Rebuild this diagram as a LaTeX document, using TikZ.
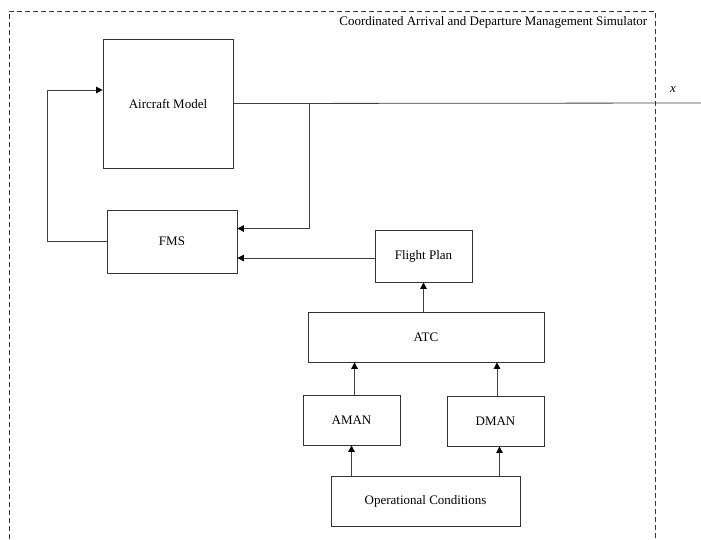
\documentclass[tikz,border=0pt]{standalone}
\usepackage{fontspec}
\setmainfont{Liberation Serif}
\usetikzlibrary{arrows.meta,calc}
\begin{document}
\begin{tikzpicture}[x=1pt,y=-1pt,
  line width=0.8pt,
  every node/.style={font=\fontsize{13}{15}\selectfont},
  block/.style={draw=black!80, rectangle, inner sep=0pt},
  link/.style={draw=black!75},
  arr/.style={link, -{Triangle[length=6.5pt,width=6.5pt,color=black]}},
  frame/.style={draw=black!80, dash pattern=on 5pt off 3pt}]
\useasboundingbox (0,0) rectangle (701,539);

% simulator boundary (open at the bottom)
\draw[frame] (9,539) -- (9,11) -- (655,11) -- (655,539);
\node[anchor=east] (title) at (651,22) {Coordinated Arrival and Departure Management Simulator};

% blocks
\node[block, minimum width=130pt, minimum height=129pt] (am) at (168,103.5) {Aircraft Model};
\node[block, minimum width=130pt, minimum height=63pt] (fms) at (172,241.5) {FMS};
\node[block, minimum width=97pt, minimum height=52pt] (fp) at (423.5,256) {Flight Plan};
\node[block, minimum width=236pt, minimum height=50pt] (atc) at (426,337) {ATC};
\node[block, minimum width=97pt, minimum height=50pt] (aman) at (351.5,420) {AMAN};
\node[block, minimum width=97pt, minimum height=50pt] (dman) at (495.5,421) {DMAN};
\node[block, minimum width=189pt, minimum height=50pt] (oc) at (425.5,501) {Operational Conditions};

% output state
\coordinate (xout) at (701,103);
\coordinate (br) at (309,103);
\draw[link] (am.east) -- (xout);
\node[font=\fontsize{13}{15}\selectfont\itshape] (xlab) at (673,90) {x};

% aircraft state fed back to the FMS
\draw[arr] (br) |- ([yshift=13pt]fms.east);
% FMS commands to the aircraft
\draw[arr] (fms.west) -- ++(-59,0) |- ([yshift=13.5pt]am.west);
% flight plan into the FMS
\draw[arr] ([yshift=-2pt]fp.west) -- ([yshift=-2pt]fp.west -| fms.east);

% ATC chain
\draw[arr] (atc.north -| fp) -- (fp.south);
\draw[arr] ([xshift=3pt]aman.north) -- ([xshift=3pt]aman.north |- atc.south);
\draw[arr] ([xshift=1.5pt]dman.north) -- ([xshift=1.5pt]dman.north |- atc.south);
\draw[arr] (oc.north -| aman) -- (aman.south);
\draw[arr] ([xshift=4pt]oc.north -| dman) -- ([xshift=4pt]dman.south);
\end{tikzpicture}
\end{document}
